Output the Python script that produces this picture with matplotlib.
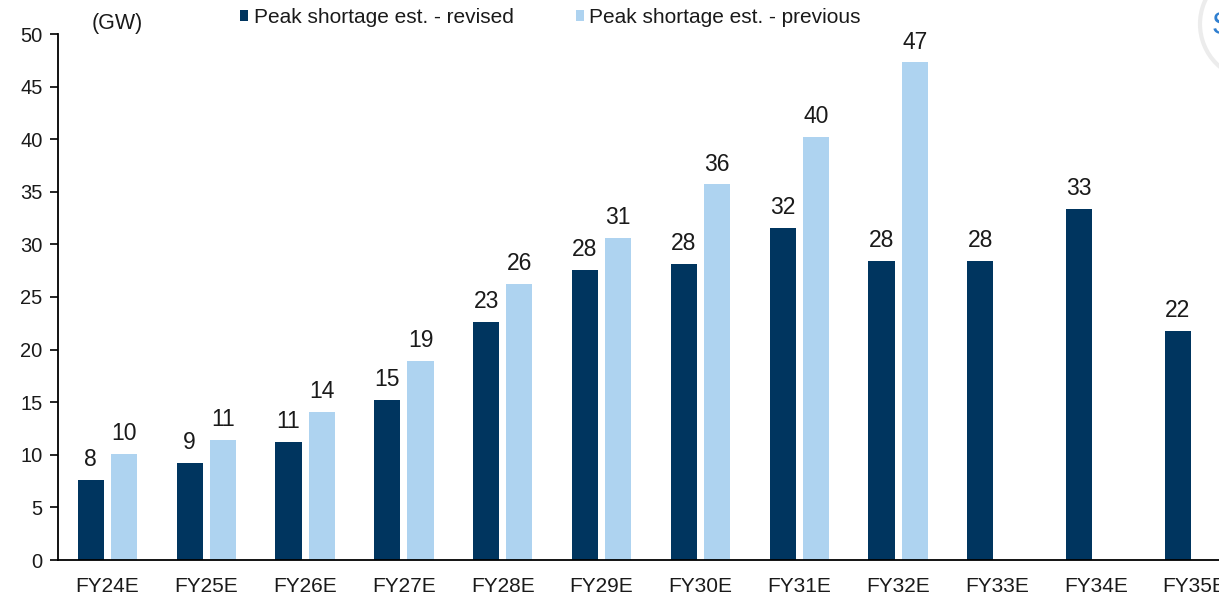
import matplotlib
matplotlib.use("Agg")
import matplotlib.pyplot as plt
import matplotlib.patches as mpatches
import numpy as np

plt.rcParams['font.family'] = ['Liberation Sans', 'DejaVu Sans']

years = ["FY24E", "FY25E", "FY26E", "FY27E", "FY28E", "FY29E",
         "FY30E", "FY31E", "FY32E", "FY33E", "FY34E", "FY35E"]
revised = [7.6, 9.2, 11.2, 15.2, 22.6, 27.6, 28.1, 31.6, 28.4, 28.4, 33.4, 21.8]
previous = [10.1, 11.4, 14.1, 18.9, 26.2, 30.6, 35.7, 40.2, 47.3,
            np.nan, np.nan, np.nan]
yticks = list(range(0, 51, 5))

dark = "#00355F"
light = "#AED3F0"

W, H = 1219, 595
fig = plt.figure(figsize=(W / 100, H / 100), dpi=100)
# axes runs past the right edge, the source image is cropped there
ax = fig.add_axes([58 / W, 35 / H, 1186 / W, 526 / H])

x = np.arange(len(years))
bw = 0.265
off = 0.168
b1 = ax.bar(x - off, revised, bw, color=dark, label="Peak shortage est. - revised")
b2 = ax.bar(x + off, previous, bw, color=light, label="Peak shortage est. - previous")

for bars, vals in ((b1, revised), (b2, previous)):
    for rect, v in zip(bars, vals):
        if np.isnan(v):
            continue
        ax.annotate(f"{v:.0f}", (rect.get_x() + rect.get_width() / 2, v),
                    xytext=(0, 10), textcoords="offset points",
                    ha="center", va="baseline", fontsize=16.5, color="#1a1a1a")

ax.set_xlim(-0.5, len(years) - 0.5)
ax.set_ylim(0, 50)
ax.set_yticks(yticks)
ax.set_xticks(x)
ax.set_xticklabels(years)
ax.tick_params(axis="x", length=0, pad=12, labelsize=15, colors="#1a1a1a")
ax.tick_params(axis="y", length=6, width=1.2, pad=5, labelsize=14.5, colors="#1a1a1a")
ax.tick_params(axis="y", color="black")
for s in ("top", "right"):
    ax.spines[s].set_visible(False)
for s in ("left", "bottom"):
    ax.spines[s].set_linewidth(1.3)

fig.text(92 / W, 1 - 23 / H, "(GW)", fontsize=15.5, va="center", ha="left", color="#1a1a1a")

fig.legend(handles=[b1, b2], loc="upper left", bbox_to_anchor=(240 / W, 1 - 8 / H),
           ncol=2, frameon=False, fontsize=15, borderpad=0, borderaxespad=0,
           handlelength=0.4, handleheight=0.4, handletextpad=0.25,
           columnspacing=3.0, labelcolor="#1a1a1a")

# partial overlay button in the top-right corner of the source image
circ = mpatches.Circle((1256, H - 24), 56, transform=None, facecolor="white",
                       edgecolor="#ececec", linewidth=3, zorder=5)
fig.patches.append(circ)
fig.text(1212 / W, 1 - 26 / H, "S", fontsize=22, color="#2f7fd0",
         va="center", ha="left", zorder=6)

fig.savefig("out.png", dpi=100)
